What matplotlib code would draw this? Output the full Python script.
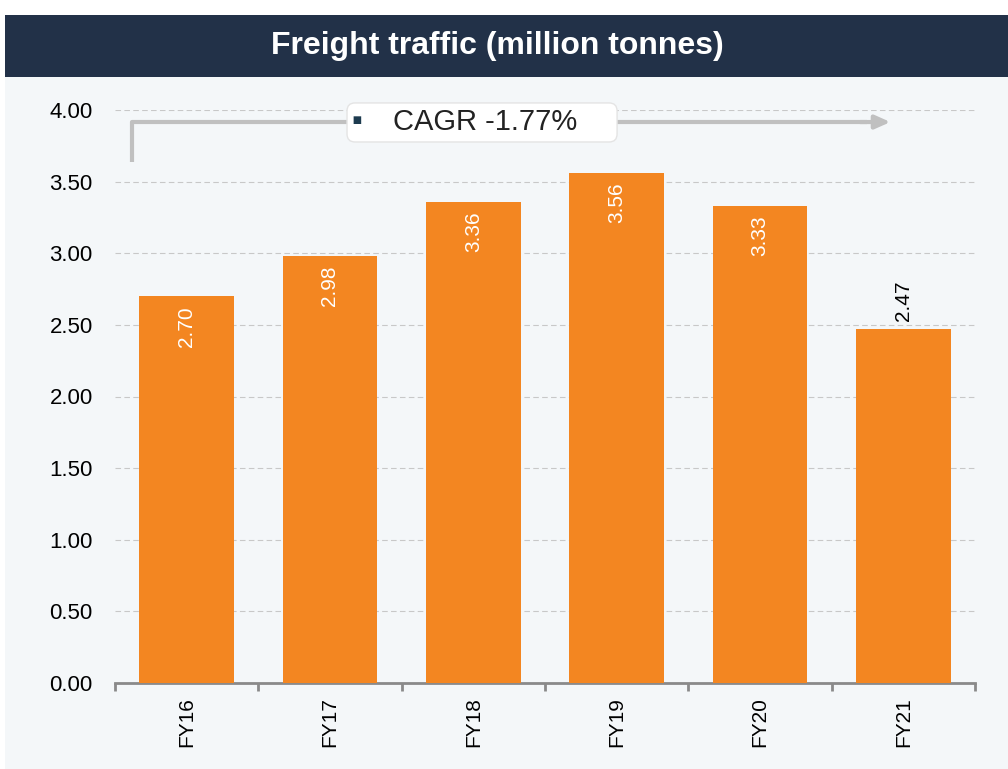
import matplotlib
matplotlib.use("Agg")
import matplotlib.pyplot as plt
from matplotlib.patches import Rectangle, FancyBboxPatch
import numpy as np

# Data
years = ["FY16", "FY17", "FY18", "FY19", "FY20", "FY21"]
traffic = [2.70, 2.98, 3.36, 3.56, 3.33, 2.47]
cagr_text = "CAGR -1.77%"
title = "Freight traffic (million tonnes)"

plt.rcParams['font.family'] = ['Liberation Sans', 'DejaVu Sans']

BAR = '#f38621'
BG = '#f4f7f9'
NAVY = '#223148'

fig = plt.figure(figsize=(10.08, 7.69), dpi=100, facecolor='white')

# background panels
fig.patches.append(Rectangle((5/1008, 0), 1, 1 - 77/769, transform=fig.transFigure,
                             facecolor=BG, edgecolor='none', zorder=-10))
fig.patches.append(Rectangle((5/1008, 1 - 77/769), 1, 62/769, transform=fig.transFigure,
                             facecolor=NAVY, edgecolor='none', zorder=-10))
fig.text(497/1008, 1 - 46/769, title, color='white', fontsize=23, fontweight='bold',
         ha='center', va='center')

ax = fig.add_axes([115/1008, 1 - 683/769, 860/1008, 573/769])
ax.set_facecolor('none')

x = np.arange(len(years))
bars = ax.bar(x, traffic, width=0.66, color=BAR, zorder=3)

ax.set_xlim(-0.5, len(years) - 0.5)
ax.set_ylim(0, 4.0)
ax.set_yticks(np.arange(0, 4.01, 0.5))
ax.set_yticklabels([f"{v:.2f}" for v in np.arange(0, 4.01, 0.5)], fontsize=16)
ax.yaxis.grid(True, linestyle=(0, (5, 3)), color='#c8c8c8', linewidth=0.8, zorder=0)
ax.set_axisbelow(True)

ax.set_xticks(x)
ax.set_xticklabels(years, rotation=90, fontsize=15)
ax.set_xticks(np.arange(-0.5, len(years)), minor=True)
ax.tick_params(axis='x', which='major', length=0, pad=10)
ax.tick_params(axis='x', which='minor', length=6, width=2, color='#8a8a8a')
ax.tick_params(axis='y', length=0, pad=16)

for s in ['top', 'right', 'left']:
    ax.spines[s].set_visible(False)
ax.spines['bottom'].set_color('#8a8a8a')
ax.spines['bottom'].set_linewidth(2)

# value labels
for i, v in enumerate(traffic):
    if i == len(traffic) - 1:
        ax.annotate(f"{v:.2f}", (i, v), xytext=(0, 6), textcoords='offset points',
                    rotation=90, ha='center', va='bottom', fontsize=15, color='black')
    else:
        ax.annotate(f"{v:.2f}", (i, v), xytext=(0, -7), textcoords='offset points',
                    rotation=90, ha='center', va='top', fontsize=15, color='white')

# CAGR arrow
ax.plot([-0.381, -0.381, 4.75], [3.637, 3.916, 3.916], color='#c0c0c0', linewidth=3,
        clip_on=False, zorder=4, solid_capstyle='butt')
ax.annotate("", xy=(4.91, 3.916), xytext=(4.7, 3.916),
            arrowprops=dict(arrowstyle='-|>,head_length=0.9,head_width=0.4', color='#c0c0c0',
                            lw=3, shrinkA=0, shrinkB=0), annotation_clip=False, zorder=4)

# CAGR label box
box = FancyBboxPatch((0.2698, 0.9442), 0.314, 0.0681, transform=ax.transAxes,
                     boxstyle='round,pad=0,rounding_size=0.0093', mutation_aspect=1.5,
                     facecolor='white', edgecolor='#e4e4e4', linewidth=1,
                     clip_on=False, zorder=5)
ax.add_patch(box)
ax.text(0.2814, 0.979, "\u25aa", transform=ax.transAxes, fontsize=22, color='#1d3b4f',
        ha='center', va='center', zorder=7)
ax.text(0.3233, 0.979, cagr_text, transform=ax.transAxes, fontsize=21, color='#222222',
        ha='left', va='center', zorder=7)

fig.savefig("out.png", dpi=100, facecolor=fig.get_facecolor())
